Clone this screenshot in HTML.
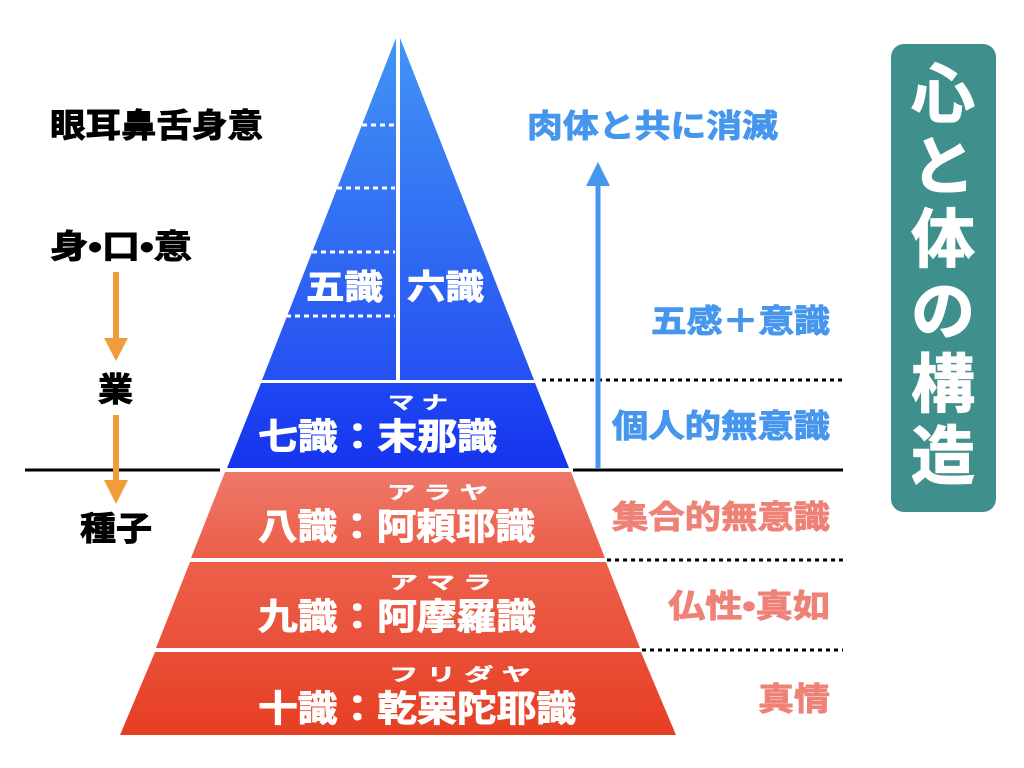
<!DOCTYPE html>
<html><head><meta charset="utf-8"><style>
html,body{margin:0;padding:0;background:#fff;}
svg{display:block;}
text{font-family:"Liberation Sans","Noto Sans CJK JP",sans-serif;font-weight:700;}
</style></head><body>
<svg width="1024" height="768" viewBox="0 0 1024 768" xmlns="http://www.w3.org/2000/svg">
<defs>
<linearGradient id="b1" x1="0" y1="38" x2="0" y2="380" gradientUnits="userSpaceOnUse"><stop offset="0" stop-color="#4294f5"/><stop offset="1" stop-color="#2550f2"/></linearGradient>
<linearGradient id="b2" x1="0" y1="383" x2="0" y2="468" gradientUnits="userSpaceOnUse"><stop offset="0" stop-color="#1f48f2"/><stop offset="1" stop-color="#1534ee"/></linearGradient>
<linearGradient id="r1" x1="0" y1="472" x2="0" y2="558" gradientUnits="userSpaceOnUse"><stop offset="0" stop-color="#ee786a"/><stop offset="1" stop-color="#eb5e48"/></linearGradient>
<linearGradient id="r2" x1="0" y1="562" x2="0" y2="648" gradientUnits="userSpaceOnUse"><stop offset="0" stop-color="#ec604a"/><stop offset="1" stop-color="#e9503a"/></linearGradient>
<linearGradient id="r3" x1="0" y1="652" x2="0" y2="735" gradientUnits="userSpaceOnUse"><stop offset="0" stop-color="#e94e36"/><stop offset="1" stop-color="#e63f23"/></linearGradient>
</defs>
<polygon points="396,38 262,380 396,380" fill="url(#b1)"/>
<polygon points="400,38 400,380 534,380" fill="url(#b1)"/>
<polygon points="261,383 535,383 569,468 227,468" fill="url(#b2)"/>
<polygon points="225,472 571,472 605,558 191,558" fill="url(#r1)"/>
<polygon points="190,562 606,562 640,648 156,648" fill="url(#r2)"/>
<polygon points="155,652 641,652 676,735 120,735" fill="url(#r3)"/>
<g stroke="#fff" stroke-width="3" stroke-dasharray="5,4">
<line x1="362" y1="125" x2="395" y2="125"/>
<line x1="337" y1="188" x2="395" y2="188"/>
<line x1="312" y1="252" x2="395" y2="252"/>
<line x1="286" y1="316" x2="395" y2="316"/>
</g>
<g stroke="#000" stroke-width="3" stroke-dasharray="4,4">
<line x1="542" y1="380" x2="843" y2="380"/>
<line x1="607" y1="560" x2="843" y2="560"/>
<line x1="642" y1="650" x2="843" y2="650"/>
</g>
<line x1="25" y1="470" x2="220" y2="470" stroke="#000" stroke-width="3"/>
<line x1="573" y1="470" x2="843" y2="470" stroke="#000" stroke-width="3"/>
<line x1="598" y1="468" x2="598" y2="184" stroke="#4696ee" stroke-width="5"/>
<polygon points="598,162 610,186 586,186" fill="#4696ee"/>
<line x1="116" y1="272" x2="116" y2="340" stroke="#f09c3a" stroke-width="6"/>
<polygon points="104,338 128,338 116,361" fill="#f09c3a"/>
<line x1="116" y1="415" x2="116" y2="482" stroke="#f09c3a" stroke-width="6"/>
<polygon points="104,480 128,480 116,504" fill="#f09c3a"/>
<g fill="#000" stroke="#000" stroke-width="0.9" font-size="33">
<text x="50" y="137" textLength="213" lengthAdjust="spacingAndGlyphs">眼耳鼻舌身意</text>
<text x="50" y="258" textLength="142" lengthAdjust="spacingAndGlyphs">身•口•意</text>
<text x="98" y="401" textLength="35" lengthAdjust="spacingAndGlyphs">業</text>
<text x="80" y="540" textLength="72" lengthAdjust="spacingAndGlyphs">種子</text>
</g>
<g fill="#fff" stroke="#fff" stroke-width="0.9">
<text x="306" y="299" font-size="34" textLength="77" lengthAdjust="spacingAndGlyphs">五識</text>
<text x="407" y="299" font-size="34" textLength="77" lengthAdjust="spacingAndGlyphs">六識</text>
<text x="258" y="449" font-size="36" textLength="239" lengthAdjust="spacingAndGlyphs">七識：末那識</text>
<text x="388" y="409" font-size="18" stroke-width="0.4" textLength="60" lengthAdjust="spacingAndGlyphs">マ ナ</text>
<text x="258" y="539" font-size="36" textLength="277" lengthAdjust="spacingAndGlyphs">八識：阿頼耶識</text>
<text x="387" y="499" font-size="18" stroke-width="0.4" textLength="101" lengthAdjust="spacingAndGlyphs">ア ラ ヤ</text>
<text x="258" y="629" font-size="36" textLength="278" lengthAdjust="spacingAndGlyphs">九識：阿摩羅識</text>
<text x="389" y="589" font-size="18" stroke-width="0.4" textLength="103" lengthAdjust="spacingAndGlyphs">ア マ ラ</text>
<text x="258" y="721" font-size="36" textLength="318" lengthAdjust="spacingAndGlyphs">十識：乾栗陀耶識</text>
<text x="389" y="681" font-size="18" stroke-width="0.4" textLength="142" lengthAdjust="spacingAndGlyphs">フ リ ダ ヤ</text>
</g>
<g font-size="32" stroke-width="0.9">
<text x="527" y="137" fill="#4696ee" stroke="#4696ee" textLength="251" lengthAdjust="spacingAndGlyphs">肉体と共に消滅</text>
<text x="651" y="332" fill="#4696ee" stroke="#4696ee" textLength="179" lengthAdjust="spacingAndGlyphs">五感＋意識</text>
<text x="612" y="437" fill="#4696ee" stroke="#4696ee" textLength="218" lengthAdjust="spacingAndGlyphs">個人的無意識</text>
<text x="612" y="528" fill="#ef8277" stroke="#ef8277" textLength="218" lengthAdjust="spacingAndGlyphs">集合的無意識</text>
<text x="668" y="617" fill="#ef8277" stroke="#ef8277" textLength="162" lengthAdjust="spacingAndGlyphs">仏性•真如</text>
<text x="758" y="710" fill="#ef8277" stroke="#ef8277" textLength="72" lengthAdjust="spacingAndGlyphs">真情</text>
</g>
<rect x="891" y="44" width="105" height="468" rx="13" fill="#3f8f8d"/>
<g fill="#fff" stroke="#fff" stroke-width="1.2" font-size="64" text-anchor="middle">
<text x="943" y="117">心</text>
<text x="943" y="189">と</text>
<text x="943" y="262">体</text>
<text x="943" y="334">の</text>
<text x="943" y="407">構</text>
<text x="943" y="479">造</text>
</g>
</svg>
</body></html>
